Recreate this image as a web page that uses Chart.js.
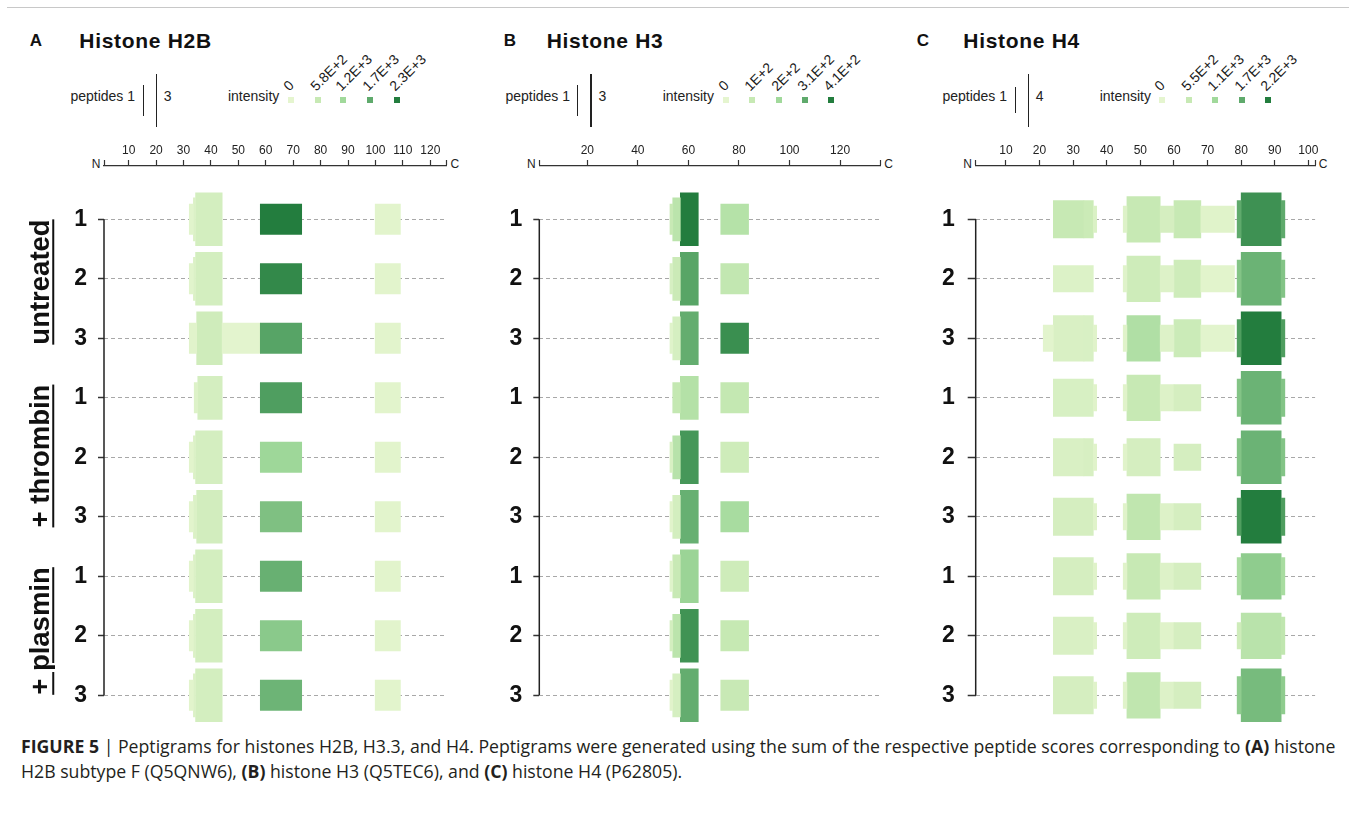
<!DOCTYPE html>
<html>
<head>
<meta charset="utf-8">
<script src="https://cdn.jsdelivr.net/npm/chart.js@4.4.1/dist/chart.umd.min.js"></script>
<style>
  body { margin: 0; background: #fff; font-family: Arial, "Liberation Sans", Helvetica, sans-serif; }
  #fig { position: relative; width: 1356px; height: 818px; overflow: hidden; }
  #fig canvas { position: absolute; }
  .t { position: absolute; white-space: nowrap; color: #111; line-height: 1; }
  .rule { position: absolute; left: 7px; top: 7px; width: 1342px; height: 1px; background: #c8c8c8; }
  .cap { position: absolute; left: 21px; top: 734px; color: #231f20; font-family: "Open Sans", Arial, sans-serif; line-height: 25px; white-space: nowrap; }
</style>
</head>
<body>
<div id="fig"><div class="rule"></div></div>
<script>
// ---------------------------------------------
// Data
// ---------------------------------------------
const rowLabels = ["1", "2", "3", "1", "2", "3", "1", "2", "3"];
const groupLabels = ["untreated", "+ thrombin", "+ plasmin"];

const panelLetters = ["A", "B", "C"];
const panelTitles = ["Histone H2B", "Histone H3", "Histone H4"];
const proteinLength = [126, 136, 102];

const h2bTicks = [10, 20, 30, 40, 50, 60, 70, 80, 90, 100, 110, 120];
const h3Ticks = [20, 40, 60, 80, 100, 120];
const h4Ticks = [10, 20, 30, 40, 50, 60, 70, 80, 90, 100];

const peptideLegend = [[1, 3], [1, 3], [1, 4]];
const h2bIntensityLabels = ["0", "5.8E+2", "1.2E+3", "1.7E+3", "2.3E+3"];
const h3IntensityLabels = ["0", "1E+2", "2E+2", "3.1E+2", "4.1E+2"];
const h4IntensityLabels = ["0", "5.5E+2", "1.1E+3", "1.7E+3", "2.2E+3"];
const intensityMax = [2300, 410, 2200];

// [row, first residue, last residue, peptides, intensity]
const h2bSegments = [
  [1, 32.1, 33.6, 1, 70], [1, 33.6, 34.4, 2, 200], [1, 34.4, 44.1, 3, 350], [1, 58, 73.1, 1, 2300], [1, 99.9, 109.1, 1, 60],
  [2, 32.1, 33.6, 1, 70], [2, 33.6, 34.4, 2, 200], [2, 34.4, 44.1, 3, 340], [2, 58, 73.1, 1, 2150], [2, 99.9, 109.1, 1, 60],
  [3, 32.1, 34.8, 1, 80], [3, 34.8, 44.1, 3, 420], [3, 44.1, 58, 1, 30], [3, 58, 73.1, 1, 1800], [3, 99.9, 109.1, 1, 60],
  [4, 33.9, 35.2, 1, 150], [4, 35.2, 44.1, 2, 330], [4, 58, 73.1, 1, 1880], [4, 99.9, 109.1, 1, 60],
  [5, 32.1, 33.6, 1, 60], [5, 33.6, 34.4, 2, 200], [5, 34.4, 44.1, 3, 330], [5, 58, 73.1, 1, 1180], [5, 99.9, 109.1, 1, 60],
  [6, 32.1, 33.6, 1, 60], [6, 33.6, 34.8, 2, 200], [6, 34.8, 44.1, 3, 360], [6, 58, 73.1, 1, 1450], [6, 99.9, 109.1, 1, 60],
  [7, 32.1, 33.6, 1, 60], [7, 33.6, 34.4, 2, 200], [7, 34.4, 44.1, 3, 340], [7, 58, 73.1, 1, 1650], [7, 99.9, 109.1, 1, 60],
  [8, 32.1, 33.6, 1, 60], [8, 33.6, 34.4, 2, 200], [8, 34.4, 44.1, 3, 340], [8, 58, 73.1, 1, 1350], [8, 99.9, 109.1, 1, 60],
  [9, 32.1, 33.6, 1, 60], [9, 33.6, 34.4, 2, 200], [9, 34.4, 44.1, 3, 340], [9, 58, 73.1, 1, 1600], [9, 99.9, 109.1, 1, 60],
];

const h3Segments = [
  [1, 52.7, 53.8, 1, 100], [1, 53.8, 56.8, 2, 135], [1, 56.8, 63.9, 3, 410], [1, 72.8, 83.8, 1, 150],
  [2, 52.7, 53.8, 1, 50], [2, 53.8, 56.8, 2, 90], [2, 56.8, 63.9, 3, 320], [2, 72.8, 83.8, 1, 115],
  [3, 52.7, 53.8, 1, 20], [3, 53.8, 56.8, 2, 55], [3, 56.8, 63.9, 3, 300], [3, 72.8, 83.8, 1, 370],
  [4, 53.8, 56.8, 1, 110], [4, 56.8, 63.9, 2, 155], [4, 72.8, 83.8, 1, 110],
  [5, 52.7, 53.8, 1, 45], [5, 53.8, 56.8, 2, 145], [5, 56.8, 63.9, 3, 350], [5, 72.8, 83.8, 1, 80],
  [6, 52.7, 53.8, 1, 15], [6, 53.8, 56.8, 2, 60], [6, 56.8, 63.9, 3, 295], [6, 72.8, 83.8, 1, 185],
  [7, 52.7, 53.8, 1, 20], [7, 53.8, 56.8, 2, 100], [7, 56.8, 63.9, 3, 215], [7, 72.8, 83.8, 1, 80],
  [8, 52.7, 53.8, 1, 60], [8, 53.8, 56.8, 2, 135], [8, 56.8, 63.9, 3, 360], [8, 72.8, 83.8, 1, 105],
  [9, 52.7, 53.8, 1, 15], [9, 53.8, 56.8, 2, 55], [9, 56.8, 63.9, 3, 300], [9, 72.8, 83.8, 1, 100],
];

const h4Segments = [
  [1, 24.1, 33.2, 2, 550], [1, 33.2, 36, 2, 480], [1, 36, 37, 1, 200], [1, 44.9, 46, 1, 150], [1, 46, 55.9, 3, 550],
  [1, 55.9, 60, 1, 300], [1, 60, 68, 2, 550], [1, 68, 78, 1, 100], [1, 78.8, 80, 2, 1650], [1, 80, 91.9, 4, 1950], [1, 91.9, 93, 2, 1650],
  [2, 24.1, 36, 1, 160], [2, 44.9, 46, 1, 110], [2, 46, 55.9, 3, 420], [2, 55.9, 60, 1, 150], [2, 60, 68, 2, 420],
  [2, 68, 78, 1, 60], [2, 78.8, 80, 2, 1350], [2, 80, 91.9, 4, 1550], [2, 91.9, 93, 2, 1350],
  [3, 21.1, 24.1, 1, 50], [3, 24.1, 33.2, 3, 220], [3, 33.2, 36, 3, 230], [3, 36, 37, 1, 100], [3, 44.9, 46, 1, 100],
  [3, 46, 55.9, 3, 880], [3, 55.9, 60, 1, 150], [3, 60, 68, 2, 470], [3, 68, 78, 1, 50], [3, 78.8, 80, 2, 1800],
  [3, 80, 91.9, 4, 2200], [3, 91.9, 93, 2, 1800],
  [4, 24.1, 36, 2, 250], [4, 36, 37, 1, 100], [4, 44.9, 46, 1, 100], [4, 46, 55.9, 3, 550], [4, 55.9, 60, 1, 150],
  [4, 60, 68, 1, 300], [4, 78.8, 80, 2, 1350], [4, 80, 91.9, 4, 1550], [4, 91.9, 93, 2, 1350],
  [5, 24.1, 33.2, 2, 220], [5, 33.2, 36, 2, 260], [5, 36, 37, 1, 100], [5, 44.9, 46, 1, 100], [5, 46, 55.9, 2, 300],
  [5, 60, 68, 1, 300], [5, 78.8, 80, 2, 1350], [5, 80, 91.9, 4, 1550], [5, 91.9, 93, 2, 1350],
  [6, 24.1, 36, 2, 300], [6, 36, 37, 1, 100], [6, 44.9, 46, 1, 100], [6, 46, 55.9, 3, 650], [6, 55.9, 60, 1, 150],
  [6, 60, 68, 1, 300], [6, 78.8, 80, 2, 1800], [6, 80, 91.9, 4, 2200], [6, 91.9, 93, 2, 1800],
  [7, 24.1, 36, 2, 300], [7, 36, 37, 1, 100], [7, 44.9, 46, 1, 100], [7, 46, 55.9, 3, 550], [7, 55.9, 60, 1, 150],
  [7, 60, 68, 1, 300], [7, 78.8, 80, 2, 1000], [7, 80, 91.9, 3, 1250], [7, 91.9, 93, 2, 1000],
  [8, 24.1, 36, 2, 220], [8, 36, 37, 1, 100], [8, 44.9, 46, 1, 100], [8, 46, 55.9, 3, 420], [8, 55.9, 60, 1, 100],
  [8, 60, 68, 1, 300], [8, 78.8, 80, 1, 420], [8, 80, 91.9, 3, 750], [8, 91.9, 93, 2, 650],
  [9, 24.1, 36, 2, 300], [9, 36, 37, 1, 100], [9, 44.9, 46, 1, 100], [9, 46, 55.9, 3, 650], [9, 55.9, 60, 1, 150],
  [9, 60, 68, 1, 300], [9, 78.8, 80, 2, 1250], [9, 80, 91.9, 4, 1450], [9, 91.9, 93, 2, 1250],
];

// ---------------------------------------------
// Layout / style
// ---------------------------------------------
const FONT = 'Arial, "Liberation Sans", Helvetica, sans-serif';
const palette = [[229, 245, 207], [199, 233, 180], [161, 217, 155], [95, 170, 108], [35, 125, 62]];
const FULL_H = 52.7;       // bar height of the max peptide count
const PLOT_TOP = 166, ROW1_Y = 219.3, ROW_PITCH = 59.5, CANVAS_TOP = 120, CANVAS_H = 606;

const layout = [
  { left: 104, right: 446.75, titleX: 79.3, letterX: 36, pepLines: [143.3, 156.3], pepTextR: 135, intTextR: 279.3,
    squares: [291, 317.7, 343.3, 370, 396.7], tickLen: 6, tickPad: 11 },
  { left: 539.3, right: 880.5, titleX: 546.7, letterX: 510, pepLines: [577.7, 591], pepTextR: 570, intTextR: 714,
    squares: [725.7, 752.3, 778.7, 805, 831.3], tickLen: 6, tickPad: 11 },
  { left: 975.7, right: 1315.1, titleX: 963.3, letterX: 923, pepLines: [1015.3, 1028.3], pepTextR: 1007, intTextR: 1151,
    squares: [1162.3, 1189, 1215.3, 1241.7, 1268.3], tickLen: 8, tickPad: 13 },
];

const segmentsByPanel = [h2bSegments, h3Segments, h4Segments];
const ticksByPanel = [h2bTicks, h3Ticks, h4Ticks];
const intensityLabelsByPanel = [h2bIntensityLabels, h3IntensityLabels, h4IntensityLabels];

function shade(f) {
  f = Math.max(0, Math.min(1, f)) * 4;
  const i = Math.min(3, Math.floor(f));
  const t = f - i;
  const a = palette[i], b = palette[i + 1];
  return "rgb(" + a.map((c, k) => Math.round(c + (b[k] - c) * t)).join(",") + ")";
}

const fig = document.getElementById("fig");
function put(html, x, y, css, ax = 0, ay = 0.5) {
  const d = document.createElement("div");
  d.className = "t";
  d.innerHTML = html;
  d.style.left = x + "px";
  d.style.top = y + "px";
  d.style.transform = `translate(${-ax * 100}%, ${-ay * 100}%)`;
  Object.assign(d.style, css || {});
  fig.appendChild(d);
  return d;
}
function box(x, y, w, h, color) {
  const d = document.createElement("div");
  Object.assign(d.style, { position: "absolute", left: x + "px", top: y + "px", width: w + "px", height: h + "px", background: color });
  fig.appendChild(d);
}

// -------------------------------
// Build one peptigram panel
// -------------------------------
function buildPanel(p) {
  const L = layout[p];
  const len = proteinLength[p];
  const ticks = ticksByPanel[p];
  const maxPep = peptideLegend[p][1];
  const maxInt = intensityMax[p];
  const unit = FULL_H / Math.sqrt(maxPep);

  // headings and legend
  put(panelLetters[p], L.letterX, 40, { fontSize: "17px", fontWeight: "bold" }, 0.5, 0.5);
  put(panelTitles[p], L.titleX, 39.5, { fontSize: "21px", fontWeight: "bold", letterSpacing: "0.7px" }, 0, 0.5);
  put("peptides " + peptideLegend[p][0], L.pepTextR, 96, { fontSize: "14px", color: "#222" }, 1, 0.5);
  peptideLegend[p].forEach((n, i) => {
    const h = unit * Math.sqrt(n);
    box(L.pepLines[i] - 0.7, 100.3 - h / 2, 1.4, h, "#222");
  });
  put(String(maxPep), L.pepLines[1] + 7.5, 96, { fontSize: "14px", color: "#222" }, 0, 0.5);
  put("intensity", L.intTextR, 96, { fontSize: "14px", color: "#222" }, 1, 0.5);
  intensityLabelsByPanel[p].forEach((lab, i) => {
    const cx = L.squares[i];
    box(cx - 3, 97.3, 6, 6, shade(i / 4));
    const d = put(lab, cx - 2, 80, { fontSize: "14px", color: "#1a1a1a", lineHeight: "14px" }, 0, 0);
    d.style.transformOrigin = "0 11.5px";
    d.style.transform = "rotate(-45deg)";
  });
  put("N", L.left - 8, 163.5, { fontSize: "12px", color: "#222" }, 0.5, 0.5);
  put("C", L.right + 8, 163.5, { fontSize: "12px", color: "#222" }, 0.5, 0.5);

  // canvas
  const canvasLeft = Math.round(L.left - 84);
  const axisW = L.left - canvasLeft;
  const canvasW = Math.round(L.right - canvasLeft + 14);
  const padRight = canvasW - (L.right - canvasLeft);
  const cv = document.createElement("canvas");
  cv.width = canvasW;
  cv.height = CANVAS_H;
  cv.style.left = canvasLeft + "px";
  cv.style.top = CANVAS_TOP + "px";
  fig.appendChild(cv);

  const yMin = 1 - (ROW1_Y - PLOT_TOP) / ROW_PITCH;
  const yMax = 9 + (CANVAS_TOP + CANVAS_H - (ROW1_Y + 8 * ROW_PITCH)) / ROW_PITCH;

  const datasets = [];
  for (let k = 1; k <= maxPep; k++) {
    const pts = segmentsByPanel[p]
      .filter((s) => s[3] === k)
      .map((s) => ({ y: s[0], x: [s[1], s[2]], v: s[4] }));
    if (!pts.length) continue;
    datasets.push({
      type: "bar",
      data: pts,
      barThickness: unit * Math.sqrt(k),
      grouped: false,
      borderWidth: 0,
      borderSkipped: false,
      backgroundColor: (c) => (c.raw ? shade(c.raw.v / maxInt) : "#ccc"),
    });
  }
  // left bracket line joining the replicate rows
  datasets.push({
    type: "line",
    data: [{ x: 1, y: 1 }, { x: 1, y: 9 }],
    borderColor: "#222",
    borderWidth: 1.5,
    pointRadius: 0,
    clip: false,
  });

  new Chart(cv.getContext("2d"), {
    type: "bar",
    data: { datasets },
    options: {
      responsive: false,
      devicePixelRatio: 1,
      animation: false,
      events: [],
      indexAxis: "y",
      layout: { padding: { left: 0, top: 0, bottom: 0, right: padRight } },
      plugins: { legend: { display: false }, tooltip: { enabled: false } },
      scales: {
        x: {
          type: "linear",
          position: "top",
          min: 1,
          max: len,
          offset: false,
          afterBuildTicks: (s) => { s.ticks = [1, ...ticks, len].map((v) => ({ value: v })); },
          afterFit: (s) => {
            s.height = PLOT_TOP - CANVAS_TOP;
            s.paddingLeft = 0;
            s.paddingRight = 0;
          },
          ticks: {
            autoSkip: false,
            maxRotation: 0,
            padding: 2,
            color: "#222",
            font: { family: FONT, size: 12 },
            callback: (v) => (ticks.includes(v) ? String(v) : ""),
          },
          grid: { offset: false, drawOnChartArea: false, tickLength: 6, tickColor: "#333", tickWidth: 1.2 },
          border: { display: true, color: "#333", width: 1.2 },
        },
        y: {
          type: "linear",
          reverse: true,
          min: yMin,
          max: yMax,
          offset: false,
          afterBuildTicks: (s) => { s.ticks = rowLabels.map((_, i) => ({ value: i + 1 })); },
          afterFit: (s) => {
            s.width = axisW;
            s.paddingTop = 0;
            s.paddingBottom = 0;
          },
          ticks: {
            autoSkip: false,
            padding: L.tickPad,
            color: "#111",
            font: { family: FONT, size: 23, weight: "bold" },
            callback: (v) => rowLabels[v - 1],
          },
          grid: { offset: false, color: "#a8a8a8", lineWidth: 1, tickColor: "#333", tickLength: L.tickLen, tickWidth: 1.5 },
          border: { display: false, dash: [4, 3] },
        },
      },
    },
  });
}

[0, 1, 2].forEach(buildPanel);

// group labels on the left of panel A
[282, 456, 631].forEach((cy, i) => {
  const d = put(groupLabels[i], 40, cy, { fontSize: "27.5px", fontWeight: "bold", textDecoration: "underline", textUnderlineOffset: "3px" }, 0, 0);
  d.style.transform = "translate(-50%, -50%) rotate(-90deg)";
});

// caption
const cap = document.createElement("div");
cap.className = "cap";
cap.innerHTML =
  '<span id="cap1"><b>FIGURE 5</b> | Peptigrams for histones H2B, H3.3, and H4. Peptigrams were generated using the sum of the respective peptide scores corresponding to <b>(A)</b> histone</span><br>' +
  'H2B subtype F (Q5QNW6), <b>(B)</b> histone H3 (Q5TEC6), and <b>(C)</b> histone H4 (P62805).';
cap.style.fontSize = "16px";
fig.appendChild(cap);
const w1 = document.getElementById("cap1").offsetWidth;
cap.style.fontSize = (16 * 1315 / w1).toFixed(2) + "px";
</script>
</body>
</html>
